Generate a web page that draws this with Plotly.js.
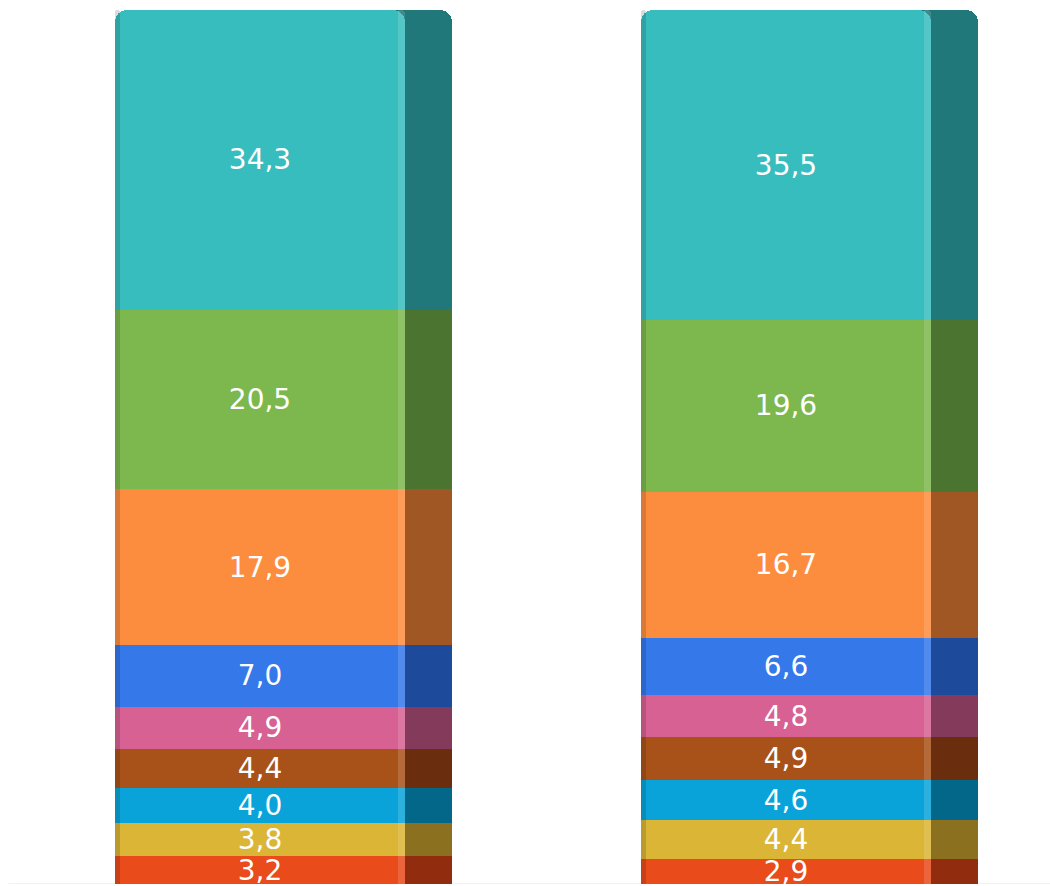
<!DOCTYPE html>
<html>
<head>
<meta charset="utf-8">
<script src="https://cdn.plot.ly/plotly-3.0.1.min.js"></script>
<style>html,body{margin:0;padding:0;background:#fff;}#chart{width:1050px;height:886px;}</style>
</head>
<body>
<div id="chart"></div>
<script>
// Columns (no visible labels in the reference)
const categories = ['A', 'B'];
// Series, bottom to top of the stack
const seriesNames = ['Serie 1','Serie 2','Serie 3','Serie 4','Serie 5','Serie 6','Serie 7','Serie 8','Serie 9'];
const values = [
  [3.2, 2.9],
  [3.8, 4.4],
  [4.0, 4.6],
  [4.4, 4.9],
  [4.9, 4.8],
  [7.0, 6.6],
  [17.9, 16.7],
  [20.5, 19.6],
  [34.3, 35.5]
];
const frontColors = ['#E94B1B','#DBB536','#0AA3D9','#A85219','#D66192','#3478EA','#FD8D3E','#7DB84F','#38BDBF'];
const sideColors  = ['#922C0E','#8B711F','#036789','#6A2E0E','#843A5B','#1E4A9B','#A05724','#4A7430','#20787A'];

// geometry (category units; 1 unit = distance between the two columns)
const fullW = 0.6407, frontW = 0.5513;
const fullOff = -fullW / 2;

const totals = categories.map((c, i) => values.reduce((s, v) => s + v[i], 0));

const traces = [];
// dark side (full-width bars, underneath)
values.forEach((v, k) => {
  traces.push({
    type: 'bar', x: categories, y: v, name: seriesNames[k], xaxis: 'x', yaxis: 'y',
    width: fullW, marker: {color: sideColors[k], line: {width: 0}},
    hoverinfo: 'skip', showlegend: false
  });
});
// front faces with labels
values.forEach((v, k) => {
  traces.push({
    type: 'bar', x: categories, y: v, name: seriesNames[k], xaxis: 'x2', yaxis: 'y',
    width: frontW, offset: fullOff, marker: {color: frontColors[k], line: {width: 0}},
    texttemplate: '%{y:.1f}', textposition: 'inside', insidetextanchor: 'middle',
    textangle: 0, constraintext: 'none', cliponaxis: false,
    textfont: {family: 'DejaVu Sans, Verdana, sans-serif', size: 28, color: '#ffffff'},
    hoverinfo: 'skip', showlegend: false
  });
});
// highlight strip near the front edge
traces.push({
  type: 'bar', x: categories, y: totals, xaxis: 'x3', yaxis: 'y',
  width: 0.014, offset: fullOff + frontW - 0.014,
  marker: {color: 'rgba(255,255,255,0.14)', line: {width: 0}, cornerradius: '50%'},
  hoverinfo: 'skip', showlegend: false
});
// shadow on the left edge
traces.push({
  type: 'bar', x: categories, y: totals, xaxis: 'x4', yaxis: 'y',
  width: 0.01, offset: fullOff,
  marker: {color: 'rgba(0,0,0,0.14)', line: {width: 0}, cornerradius: '50%'},
  hoverinfo: 'skip', showlegend: false
});

const xr = [-283.5/526, (1050-283.5)/526];
const xbase = {type: 'category', range: xr, showgrid: false, zeroline: false, showticklabels: false, ticks: '', showline: false, fixedrange: true};

const layout = {
  width: 1050, height: 886,
  margin: {l: 0, r: 0, t: 10, b: 2},
  paper_bgcolor: '#ffffff', plot_bgcolor: '#ffffff',
  barmode: 'stack', barcornerradius: 12,
  separators: ',.',
  showlegend: false,
  xaxis: Object.assign({}, xbase),
  xaxis2: Object.assign({}, xbase, {overlaying: 'x', matches: 'x'}),
  xaxis3: Object.assign({}, xbase, {overlaying: 'x', matches: 'x'}),
  xaxis4: Object.assign({}, xbase, {overlaying: 'x', matches: 'x'}),
  yaxis: {range: [0, 100], showgrid: false, zeroline: false, showticklabels: false, ticks: '', showline: false, fixedrange: true},
  shapes: [{type: 'line', xref: 'paper', yref: 'y', x0: 0.008, x1: 1, y0: 0, y1: 0, line: {color: '#e3e3e3', width: 1}, layer: 'below'}]
};

Plotly.newPlot('chart', traces, layout, {displayModeBar: false, staticPlot: true});
</script>
</body>
</html>
